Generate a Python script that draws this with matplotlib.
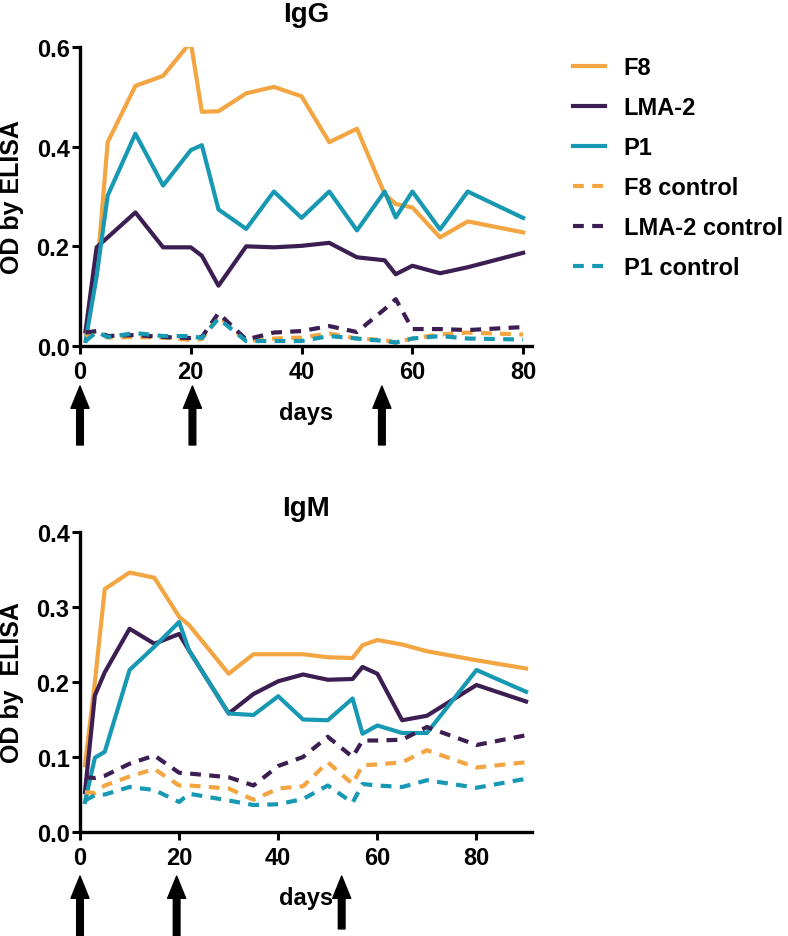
import matplotlib
matplotlib.use("Agg")
import matplotlib.pyplot as plt

plt.rcParams['font.family'] = ['Liberation Sans', 'DejaVu Sans']
plt.rcParams['font.weight'] = 'bold'

# IgG panel data
igg_days = [1, 3, 5, 10, 15, 20, 22, 25, 30, 35, 40, 45, 50, 55, 57, 60, 65, 70, 80]
igg_f8 = [0.027, 0.141, 0.409, 0.522, 0.542, 0.61, 0.47, 0.471, 0.507, 0.52,
          0.501, 0.409, 0.436, 0.305, 0.285, 0.278, 0.218, 0.25, 0.228]
igg_lma2 = [0.03, 0.198, 0.218, 0.268, 0.198, 0.198, 0.181, 0.121, 0.2, 0.198,
            0.201, 0.207, 0.178, 0.172, 0.144, 0.161, 0.146, 0.158, 0.187]
igg_p1 = [0.01, 0.14, 0.302, 0.426, 0.322, 0.393, 0.403, 0.274, 0.235, 0.31,
          0.257, 0.31, 0.232, 0.31, 0.258, 0.31, 0.234, 0.31, 0.257]
igg_f8_ctrl = [0.02, 0.03, 0.017, 0.018, 0.017, 0.012, 0.014, 0.06, 0.01, 0.015,
               0.017, 0.025, 0.015, 0.012, 0.007, 0.015, 0.023, 0.027, 0.023]
igg_lma2_ctrl = [0.027, 0.03, 0.02, 0.022, 0.018, 0.016, 0.018, 0.066, 0.013, 0.027,
                 0.03, 0.04, 0.028, 0.074, 0.094, 0.034, 0.034, 0.032, 0.038]
igg_p1_ctrl = [0.01, 0.028, 0.018, 0.026, 0.02, 0.02, 0.016, 0.055, 0.01, 0.01,
               0.01, 0.02, 0.015, 0.01, 0.007, 0.015, 0.02, 0.015, 0.013]

# IgM panel data
igm_days = [1, 3, 5, 10, 15, 20, 22, 30, 35, 40, 45, 50, 55, 57, 60, 65, 70, 80, 90]
igm_f8 = [0.089, 0.2, 0.324, 0.346, 0.339, 0.287, 0.276, 0.211, 0.237, 0.237,
          0.237, 0.233, 0.232, 0.249, 0.256, 0.25, 0.241, 0.229, 0.218]
igm_lma2 = [0.053, 0.182, 0.213, 0.271, 0.251, 0.264, 0.242, 0.158, 0.184, 0.201,
            0.21, 0.203, 0.204, 0.22, 0.211, 0.149, 0.155, 0.196, 0.174]
igm_p1 = [0.04, 0.099, 0.107, 0.216, 0.247, 0.28, 0.242, 0.158, 0.156, 0.181,
          0.15, 0.149, 0.178, 0.131, 0.142, 0.132, 0.132, 0.216, 0.187]
igm_f8_ctrl = [0.053, 0.052, 0.062, 0.074, 0.084, 0.062, 0.062, 0.058, 0.043, 0.058,
               0.061, 0.093, 0.064, 0.089, 0.09, 0.093, 0.109, 0.086, 0.093]
igm_lma2_ctrl = [0.073, 0.072, 0.075, 0.091, 0.102, 0.079, 0.078, 0.073, 0.062, 0.088,
                 0.1, 0.127, 0.1, 0.122, 0.122, 0.123, 0.14, 0.116, 0.129]
igm_p1_ctrl = [0.042, 0.049, 0.05, 0.06, 0.056, 0.04, 0.051, 0.042, 0.036, 0.037,
               0.044, 0.062, 0.039, 0.064, 0.062, 0.06, 0.069, 0.059, 0.071]

labels = ["F8", "LMA-2", "P1", "F8 control", "LMA-2 control", "P1 control"]
colors = ["#F2A541", "#3C1E52", "#1799B3"]

# immunisation days (arrows under the x axis)
igg_arrows = [0, 20.3, 54.5]
igm_arrows = [0, 19.5, 52.8]

fig = plt.figure(figsize=(7.88, 9.37), dpi=100)
ax1 = fig.add_axes([80/788, 1-347/937, 452/788, 299/937])
ax2 = fig.add_axes([80/788, 1-833/937, 452/788, 300/937])

def draw(ax, days, series, title, title_pad, xmax, ymax, ystep, ylabel, arrows, arr_top, arr_bots):
    for i, ys in enumerate(series):
        c = colors[i % 3]
        if i < 3:
            ax.plot(days, ys, color=c, lw=3.0, label=labels[i])
        else:
            ax.plot(days, ys, color=c, lw=3.0, ls=(0, (2.6, 2.0)), label=labels[i])
    ax.set_xlim(0, xmax)
    ax.set_ylim(0, ymax)
    ax.set_xticks([0, 20, 40, 60, 80])
    n = int(round(ymax / ystep))
    yt = [k * ystep for k in range(n + 1)]
    ax.set_yticks(yt)
    ax.set_yticklabels(["%.1f" % v for v in yt])
    for s in ["top", "right"]:
        ax.spines[s].set_visible(False)
    for s in ["left", "bottom"]:
        ax.spines[s].set_linewidth(2.4)
    ax.tick_params(axis="both", length=6, width=2.2, labelsize=17)
    ax.tick_params(axis="x", pad=4)
    ax.tick_params(axis="y", pad=1.5)
    ax.set_title(title, fontsize=20, fontweight="bold", pad=title_pad)
    ax.set_ylabel(ylabel, fontsize=18, fontweight="bold", va="center")
    ax.yaxis.set_label_coords(-0.15, 0.5)
    ax.set_xlabel("days", fontsize=17, fontweight="bold")
    for d, yb in zip(arrows, arr_bots):
        ax.annotate("", xy=(d, arr_top), xytext=(d, yb),
                    xycoords=ax.get_xaxis_transform(),
                    arrowprops=dict(width=4.8, headwidth=13, headlength=16,
                                    shrink=0, color="k"),
                    annotation_clip=False)

draw(ax1, igg_days, [igg_f8, igg_lma2, igg_p1, igg_f8_ctrl, igg_lma2_ctrl, igg_p1_ctrl],
     "IgG", 19, 81.6, 0.6, 0.2, "OD by ELISA", igg_arrows, -0.134, [-0.331, -0.331, -0.331])
ax1.xaxis.set_label_coords(0.5, -0.185)

draw(ax2, igm_days, [igm_f8, igm_lma2, igm_p1, igm_f8_ctrl, igm_lma2_ctrl, igm_p1_ctrl],
     "IgM", 12, 91.2, 0.4, 0.1, "OD by  ELISA", igm_arrows, -0.147, [-0.38, -0.38, -0.323])
ax2.xaxis.set_label_coords(0.5, -0.18)

h, l = ax1.get_legend_handles_labels()
fig.legend(h, l, loc="upper left", bbox_to_anchor=(573/788, 1-57/937),
           frameon=False, fontsize=17, handlelength=1.35, handletextpad=0.8,
           labelspacing=0.72, borderpad=0, borderaxespad=0)

fig.savefig("out.png", dpi=100)
